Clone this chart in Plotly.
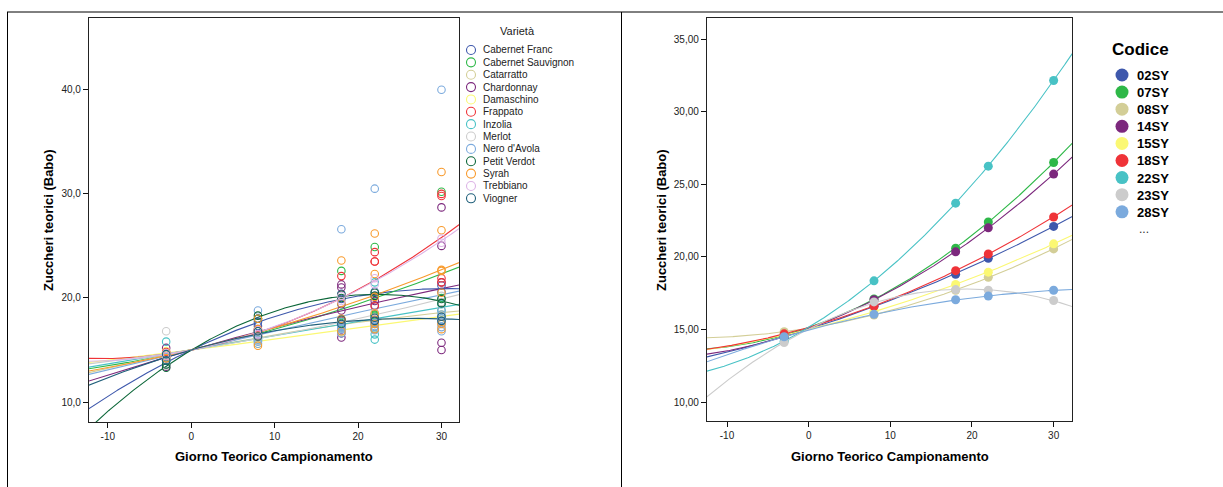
import numpy as np
import plotly.graph_objects as go

W, H = 1223, 487

# ---------------- data ----------------
DAYS = [-3, 8, 18, 22, 30]

VARIETIES = ["Cabernet Franc", "Cabernet Sauvignon", "Catarratto", "Chardonnay",
             "Damaschino", "Frappato", "Inzolia", "Merlot", "Nero d'Avola",
             "Petit Verdot", "Syrah", "Trebbiano", "Viogner"]
VARIETY_COLORS = ["#3E58AC", "#2EB848", "#D3CE97", "#7C287D", "#FBF873", "#EF3338",
                  "#48C2C5", "#CCCCCC", "#7BAADD", "#0B6638", "#F89A2C", "#DDB4E6",
                  "#1F5F7A"]

# sugar values per sampling day (one inner list per entry of DAYS)
CABERNET_FRANC = [[13.6, 14.0], [17.3, 18.0, 17.7], [19.4, 20.4, 19.9], [20.2, 20.6], [20.6, 21.2]]
CABERNET_SAUVIGNON = [[14.3, 14.7], [16.3, 16.8], [22.6, 17.5, 17.9, 17.6],
                      [24.9, 18.4, 18.2, 18.3], [30.2, 20.0, 19.5, 19.5]]
CATARRATTO = [[14.3, 14.7], [16.0, 16.4], [17.2, 17.7], [17.6, 18.1], [18.3, 18.9]]
CHARDONNAY = [[15.2, 13.4], [16.5, 17.0], [21.3, 21.0, 16.6, 16.2, 18.8], [19.3, 19.7],
              [28.7, 25.0, 15.7, 15.0, 21.5, 19.5]]
DAMASCHINO = [[14.5, 14.9], [15.6, 16.0], [16.7, 17.1], [17.1, 17.5], [18.0, 18.4]]
FRAPPATO = [[14.4, 14.8], [16.4, 16.9], [22.1, 17.8], [24.4, 23.5, 23.5, 19.2, 17.9],
            [30.0, 29.8, 21.5, 21.9]]
INZOLIA = [[15.8, 14.0, 14.0], [15.9, 16.3], [17.2, 17.7], [21.5, 16.5, 16.0], [18.8, 19.4]]
MERLOT = [[16.8, 13.6, 13.5], [15.9, 16.3], [17.4, 17.9], [18.1, 18.6], [19.6, 20.2]]
NERO_DAVOLA = [[14.3, 14.56], [18.8, 15.6, 15.8, 16.0, 16.2],
               [26.6, 16.6, 16.8, 17.0, 17.1, 17.2, 17.3, 17.48],
               [30.5, 16.9, 17.0, 17.2, 17.3, 17.5, 17.6, 17.6],
               [40.0, 18.8, 18.4, 18.0, 17.6, 17.2, 17.8, 18.2, 16.8]]
PETIT_VERDOT = [[13.3, 13.6], [18.3, 18.0], [20.0, 20.3], [20.2, 20.5], [19.5, 19.9]]
SYRAH = [[14.2, 14.7], [16.3, 17.0, 18.0, 15.4], [23.6, 19.5, 18.0, 16.8, 17.9],
         [26.2, 22.3, 18.5, 17.5, 17.0, 20.1], [32.1, 26.5, 22.7, 17.0, 17.5, 20.5, 22.6]]
TREBBIANO = [[14.4, 14.7], [16.5, 16.9], [19.7, 20.2], [21.9, 21.3], [25.7, 25.3]]
VIOGNER = [[14.0, 14.6], [16.3, 16.8], [17.5, 17.9], [17.8, 18.1], [17.8, 18.2]]

VARIETY_DATA = [CABERNET_FRANC, CABERNET_SAUVIGNON, CATARRATTO, CHARDONNAY, DAMASCHINO,
                FRAPPATO, INZOLIA, MERLOT, NERO_DAVOLA, PETIT_VERDOT, SYRAH, TREBBIANO,
                VIOGNER]

CODES = ["02SY", "07SY", "08SY", "14SY", "15SY", "18SY", "22SY", "23SY", "28SY"]
CODE_COLORS = ["#3E58AC", "#2EB848", "#D3CE97", "#7C287D", "#FBF873", "#EF3338",
               "#48C2C5", "#CCCCCC", "#7BAADD"]
SY02 = [14.5, 16.6, 18.8, 19.9, 22.1]
SY07 = [14.6, 17.1, 20.6, 22.4, 26.5]
SY08 = [14.85, 16.0, 17.7, 18.6, 20.55]
SY14 = [14.5, 17.05, 20.35, 22.0, 25.7]
SY15 = [14.6, 16.25, 18.1, 18.95, 20.9]
SY18 = [14.7, 16.6, 19.05, 20.2, 22.75]
SY22 = [14.2, 18.35, 23.7, 26.25, 32.15]
SY23 = [14.1, 16.9, 17.75, 17.7, 17.0]
SY28 = [14.5, 16.05, 17.05, 17.3, 17.7]
CODE_DATA = [SY02, SY07, SY08, SY14, SY15, SY18, SY22, SY23, SY28]

LEFT_XRANGE = [-12.25, 32.1]
LEFT_YRANGE = [8.08, 46.9]
LEFT_YTICKS = [10, 20, 30, 40]
LEFT_YTICKTEXT = ["10,0", "20,0", "30,0", "40,0"]
RIGHT_XRANGE = [-12.45, 32.25]
RIGHT_YRANGE = [8.7, 36.45]
RIGHT_YTICKS = [10, 15, 20, 25, 30, 35]
RIGHT_YTICKTEXT = ["10,00", "15,00", "20,00", "25,00", "30,00", "35,00"]
XTICKS = [-10, 0, 10, 20, 30]
XTICKTEXT = ["-10", "0", "10", "20", "30"]


def px(x):
    return x / W


def py(y):
    return 1 - y / H


fig = go.Figure()

# ---------------- left chart ----------------
xs_line_l = np.linspace(LEFT_XRANGE[0] - 0.5, LEFT_XRANGE[1] + 0.5, 300)
for name, color, groups in zip(VARIETIES, VARIETY_COLORS, VARIETY_DATA):
    xv, yv = [], []
    for d, vals in zip(DAYS, groups):
        xv += [d] * len(vals)
        yv += vals
    coef = np.polyfit(xv, yv, 2)
    fig.add_trace(go.Scatter(x=xs_line_l, y=np.polyval(coef, xs_line_l), mode="lines",
                             line=dict(color=color, width=1.1), xaxis="x", yaxis="y",
                             showlegend=False, hoverinfo="skip"))
for name, color, groups in zip(VARIETIES, VARIETY_COLORS, VARIETY_DATA):
    xv, yv = [], []
    for d, vals in zip(DAYS, groups):
        xv += [d] * len(vals)
        yv += vals
    fig.add_trace(go.Scatter(x=xv, y=yv, mode="markers", name=name,
                             marker=dict(symbol="circle-open", size=7.5, color=color,
                                         line=dict(width=1.1, color=color)),
                             xaxis="x", yaxis="y", showlegend=False, cliponaxis=True))

# ---------------- right chart ----------------
xs_line_r = np.linspace(RIGHT_XRANGE[0] - 0.5, RIGHT_XRANGE[1] + 0.5, 300)
for name, color, vals in zip(CODES, CODE_COLORS, CODE_DATA):
    coef = np.polyfit(DAYS, vals, 2)
    fig.add_trace(go.Scatter(x=xs_line_r, y=np.polyval(coef, xs_line_r), mode="lines",
                             line=dict(color=color, width=1.1), xaxis="x2", yaxis="y2",
                             showlegend=False, hoverinfo="skip"))
for name, color, vals in zip(CODES, CODE_COLORS, CODE_DATA):
    fig.add_trace(go.Scatter(x=DAYS, y=vals, mode="markers", name=name,
                             marker=dict(symbol="circle", size=9, color=color),
                             xaxis="x2", yaxis="y2", showlegend=False))

FONT = "Arial, Liberation Sans, sans-serif"
tickfont = dict(family=FONT, size=10, color="#222")
axis_common = dict(showgrid=False, zeroline=False, showline=True, linecolor="#222",
                   linewidth=1.3, mirror=True, ticks="outside", ticklen=5, tickwidth=1,
                   tickcolor="#111", tickfont=tickfont, fixedrange=True)

fig.update_layout(
    width=W, height=H, margin=dict(l=0, r=0, t=0, b=0),
    paper_bgcolor="white", plot_bgcolor="white", showlegend=False,
    font=dict(family=FONT),
    xaxis=dict(domain=[px(89), px(459)], range=LEFT_XRANGE, tickvals=XTICKS,
               ticktext=XTICKTEXT, anchor="y", **axis_common),
    yaxis=dict(domain=[py(422), py(18)], range=LEFT_YRANGE, tickvals=LEFT_YTICKS,
               ticktext=LEFT_YTICKTEXT, anchor="x", **axis_common),
    xaxis2=dict(domain=[px(707), px(1072)], range=RIGHT_XRANGE, tickvals=XTICKS,
                ticktext=XTICKTEXT, anchor="y2", **axis_common),
    yaxis2=dict(domain=[py(421), py(18)], range=RIGHT_YRANGE, tickvals=RIGHT_YTICKS,
                ticktext=RIGHT_YTICKTEXT, anchor="x2", **axis_common),
)

shapes = []
annotations = []

# outer frame (table-like cell borders)
frame = dict(type="line", xref="paper", yref="paper", line=dict(color="black", width=1))
shapes.append(dict(frame, x0=px(7), x1=1, y0=py(12), y1=py(12)))
shapes.append(dict(frame, x0=px(7.5), x1=px(7.5), y0=py(12), y1=0))
shapes.append(dict(frame, x0=px(621.5), x1=px(621.5), y0=py(12), y1=0))

# axis titles
title_font = dict(family=FONT, size=13, color="black")
for cx in (274, 890):
    annotations.append(dict(text="<b>Giorno Teorico Campionamento</b>", x=px(cx), y=py(456),
                            xref="paper", yref="paper", showarrow=False, font=title_font,
                            xanchor="center", yanchor="middle"))
for cx in (48, 661):
    annotations.append(dict(text="<b>Zuccheri teorici (Babo)</b>", x=px(cx), y=py(220),
                            xref="paper", yref="paper", showarrow=False, font=title_font,
                            textangle=-90, xanchor="center", yanchor="middle"))

# left legend
annotations.append(dict(text="Varietà", x=px(517), y=py(31), xref="paper", yref="paper",
                        showarrow=False, font=dict(family=FONT, size=11, color="#222"),
                        xanchor="center", yanchor="middle"))
for i, (name, color) in enumerate(zip(VARIETIES, VARIETY_COLORS)):
    cy = 50 + i * 12.36
    shapes.append(dict(type="circle", xref="paper", yref="paper",
                       x0=px(466.5), x1=px(475.5), y0=py(cy + 4.5), y1=py(cy - 4.5),
                       line=dict(color=color, width=1.1), fillcolor="rgba(0,0,0,0)"))
    annotations.append(dict(text=name, x=px(481), y=py(cy), xref="paper", yref="paper",
                            showarrow=False, font=dict(family=FONT, size=10, color="#222"),
                            xanchor="left", yanchor="middle"))

# right legend
annotations.append(dict(text="<b>Codice</b>", x=px(1140), y=py(50), xref="paper", yref="paper",
                        showarrow=False, font=dict(family=FONT, size=17, color="black"),
                        xanchor="center", yanchor="middle"))
for i, (name, color) in enumerate(zip(CODES, CODE_COLORS)):
    cy = 75 + i * 17.1
    shapes.append(dict(type="circle", xref="paper", yref="paper",
                       x0=px(1115.5), x1=px(1128.5), y0=py(cy + 6.5), y1=py(cy - 6.5),
                       line=dict(color=color, width=0), fillcolor=color))
    annotations.append(dict(text="<b>" + name + "</b>", x=px(1135), y=py(cy + 0.5),
                            xref="paper", yref="paper", showarrow=False,
                            font=dict(family=FONT, size=13, color="black"),
                            xanchor="left", yanchor="middle"))
annotations.append(dict(text="...", x=px(1144), y=py(229), xref="paper", yref="paper",
                        showarrow=False, font=dict(family=FONT, size=12, color="#333"),
                        xanchor="center", yanchor="middle"))

fig.update_layout(shapes=shapes, annotations=annotations)
fig.write_html("out.html")
